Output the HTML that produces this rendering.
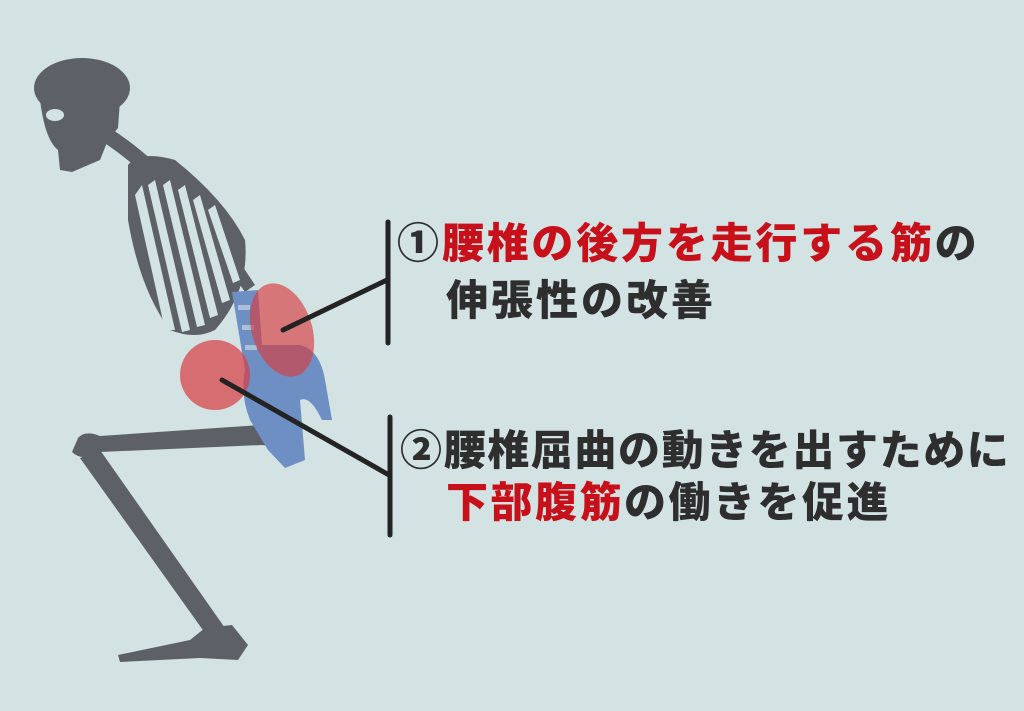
<!DOCTYPE html>
<html><head><meta charset="utf-8"><style>
html,body{margin:0;padding:0}
body{width:1024px;height:711px;background:#d3e2e2;position:relative;overflow:hidden;font-family:"Liberation Sans","Noto Sans CJK JP",sans-serif}
.t{position:absolute;font-weight:900;font-size:42px;line-height:42px;color:#2e2e2e;letter-spacing:2px;white-space:nowrap}
.r{color:#c8101a}
.n{font-family:"Noto Sans CJK JP",sans-serif;font-weight:900}
</style></head><body>
<svg width="1024" height="711" style="position:absolute;left:0;top:0">
<g fill="#5d6167" stroke="none">
<ellipse cx="82" cy="88" rx="48" ry="30"/>
<path d="M40 100 Q45 140 58 150 L60 170 L72 172 L100 160 L108 140 L118 128 L120 100 Z"/>
<path d="M105 125 Q180 170 255 285 L245 292 Q170 185 100 140 Z"/>
<path d="M128 165 Q140 150 175 160 Q225 200 245 240 Q250 290 215 330 Q195 340 170 330 Q140 290 128 220 Z"/>
<path d="M78 438 Q85 430 100 436 L260 425 Q280 420 285 432 Q282 448 262 445 L100 452 Q82 462 72 452 Z"/>
<path d="M80 458 L100 450 L225 628 L210 640 Z"/>
<path d="M205 628 L232 625 L248 645 L238 660 L200 658 L120 662 L118 655 L190 640 Z"/>
</g>
<g fill="#d3e2e2">
<ellipse cx="55" cy="115" rx="9" ry="6"/>
<path d="M142 185 L175 330 L165 330 L135 195Z"/><path d="M155 180 L190 330 L182 332 L148 185Z"/>
<path d="M170 180 L205 325 L197 327 L163 185Z"/><path d="M185 185 L218 315 L210 318 L178 190Z"/>
<path d="M200 195 L230 300 L222 303 L193 200Z"/><path d="M215 205 L240 280 L233 283 L208 210Z"/>
</g>
<path fill="#6e8fc4" d="M232 292 L258 290 L262 345 L300 345 Q320 350 325 380 L332 420 L322 420 Q310 395 300 400 L305 460 L285 468 L268 450 L250 420 Q240 395 245 370 Z"/>
<g fill="#d3e2e2" opacity="0.6"><rect x="238" y="305" width="12" height="5"/><rect x="242" y="325" width="12" height="5"/><rect x="245" y="345" width="12" height="5"/></g>
<ellipse cx="282" cy="330" rx="30" ry="48" transform="rotate(-18 282 330)" fill="rgba(215,60,65,0.65)"/>
<circle cx="215" cy="375" r="35" fill="rgba(215,60,65,0.7)"/>
<g stroke="#232323" stroke-width="5" stroke-linecap="round">
<line x1="388" y1="222" x2="388" y2="343"/>
<line x1="390" y1="417" x2="390" y2="535"/>
<line x1="387" y1="280" x2="283" y2="330"/>
<line x1="389" y1="475" x2="222" y2="380"/>
</g>
</svg>
<div class="t" style="left:397px;top:220px;letter-spacing:2.8px"><span class="n">①</span><span class="r">腰椎の後方を走行する筋</span>の</div>
<div class="t" style="left:446px;top:280px;letter-spacing:3px">伸張性の改善</div>
<div class="t" style="left:400px;top:427px;letter-spacing:1.6px"><span class="n">②</span>腰椎屈曲の動きを出すために</div>
<div class="t" style="left:446px;top:482px;letter-spacing:2.5px"><span class="r">下部腹筋</span>の働きを促進</div>
</body></html>
